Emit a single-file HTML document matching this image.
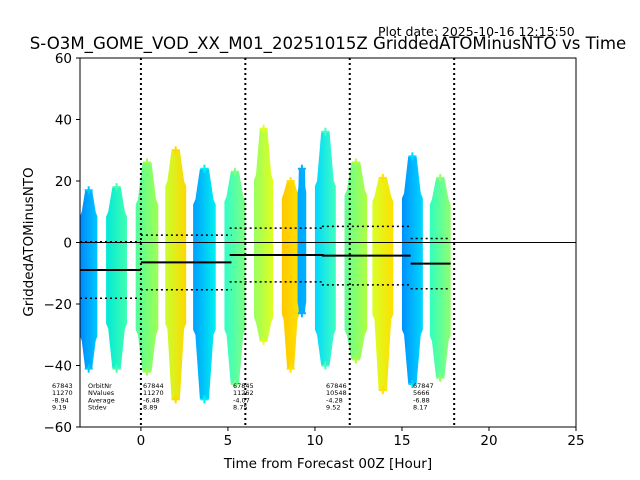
<!DOCTYPE html>
<html><head><meta charset="utf-8"><style>
body{margin:0;background:#fff;}
svg{display:block;font-family:"DejaVu Sans","Liberation Sans",sans-serif;}
</style></head><body>
<svg id="chart" width="640" height="480" xmlns="http://www.w3.org/2000/svg">
<text x="378" y="36" font-size="12.5">Plot date: 2025-10-16 12:15:50</text>
<text x="328" y="49" font-size="16.6" text-anchor="middle">S-O3M_GOME_VOD_XX_M01_20251015Z GriddedATOMinusNTO vs Time</text>
<defs id="defs"></defs>
<g id="plot"></g>
<rect x="80" y="58" width="496" height="369" fill="none" stroke="#000" stroke-width="1"/>
<text x="328" y="468" font-size="13.5" text-anchor="middle">Time from Forecast 00Z [Hour]</text>
<text transform="translate(33,242) rotate(-90)" font-size="13.5" text-anchor="middle">GriddedATOMinusNTO</text>
</svg>
<script>
const xTicks=[0,5,10,15,20,25];
const yTicks=[-60,-40,-20,0,20,40,60];
const vLines=[0,6,12,18];
const clStart=[-3.5,-2.0,-0.3,1.4,3.0,4.8,6.5,8.1,9.0,10.0,11.7,13.3,15.0,16.6];
const clEnd=[-2.5,-0.8,1.0,2.6,4.3,6.0,7.6,9.1,9.5,11.2,13.0,14.5,16.2,17.8];
const coreTop=[10,10,14,20,14,15,22,16,18,20,17,15,16,14];
const coreBot=[-32,-28,-30,-28,-30,-30,-26,-25,-21,-30,-30,-25,-30,-32];
const tailTop=[17,18,26,30,24,23,37,20,24,36,26,21,28,21];
const tailBot=[-41,-41,-42,-51,-51,-46,-32,-41,-23,-40,-38,-48,-46,-44];
const colL=['#0088ff','#00e8d8','#50ffa0','#c8ff30','#00a0ff','#30ffc8','#98ff60','#ffc800','#00a8ff','#00d8ff','#60ff98','#d8ff28','#0090ff','#30ffc0'];
const colR=['#00c8ff','#40ffb0','#a0ff50','#ffd800','#00f0f0','#80ff80','#e0ff20','#ffe000','#00b0ff','#40ffc0','#b0ff40','#ffe000','#00d8ff','#90ff70'];
const segStart=[-3.5,0,5.1,10.4,15.5];
const segEnd=[0,5.2,10.5,15.5,17.8];
const means=[-8.94,-6.48,-4.07,-4.28,-6.88];
const stdevs=[9.19,8.89,8.75,9.52,8.17];
const orbits=['67843','67844','67845','67846','67847'];
const nvals=['11270','11270','11262','10548','5666'];
const textX=[52,143,233,326,413];

const NS='http://www.w3.org/2000/svg';
const X=v=>80+(v+3.5)*496/28.5;
const Y=v=>242.5-v*369/120;
const svg=document.getElementById('chart');
const plot=document.getElementById('plot');
const defs=document.getElementById('defs');
function mk(tag,attrs,parent){const e=document.createElementNS(NS,tag);for(const k in attrs)e.setAttribute(k,attrs[k]);(parent||plot).appendChild(e);return e;}

clStart.forEach((s,i)=>{
  const g=mk('linearGradient',{id:'g'+i,x1:'0',x2:'1',y1:'0',y2:'0'},defs);
  mk('stop',{offset:'0','stop-color':colL[i]},g);
  mk('stop',{offset:'1','stop-color':colR[i]},g);
  const x0=X(s),x1=X(clEnd[i]),w=x1-x0,c=(x0+x1)/2;
  const yt=Y(tailTop[i]),yct=Y(coreTop[i]),ycb=Y(coreBot[i]),yb=Y(tailBot[i]);
  const hw=Math.max(3,w*0.2);
  const d=`M${c-hw},${yt}L${c+hw},${yt}L${x1-w*0.1},${yct}L${x1},${yct+5}L${x1},${ycb-5}L${x1-w*0.1},${ycb}L${c+hw},${yb}L${c-hw},${yb}L${x0+w*0.1},${ycb}L${x0},${ycb-5}L${x0},${yct+5}L${x0+w*0.1},${yct}Z`;
  const core=mk('path',{d:d,fill:'url(#g'+i+')'});
  
  
  [tailTop[i],tailBot[i]].forEach(v=>{
    const p=mk('path',{d:`M${c-4},${Y(v)}h8M${c},${Y(v)-4}v8`,stroke:colR[i],'stroke-width':2});
    
    
  });
});
const zl=mk('line',{x1:80,x2:576,y1:Y(0),y2:Y(0),stroke:'#000','stroke-width':1});


vLines.forEach(v=>{
  const l=mk('line',{x1:X(v),x2:X(v),y1:58,y2:427,stroke:'#000','stroke-width':2,'stroke-dasharray':'2,3'});
  
  
});
segStart.forEach((s,i)=>{
  const a=X(s),b=X(segEnd[i]);
  const m=mk('line',{x1:a,x2:b,y1:Y(means[i]),y2:Y(means[i]),stroke:'#000','stroke-width':2});
  
  
  [1,-1].forEach(sg=>{
    const dl=mk('line',{x1:a,x2:b,y1:Y(means[i]+sg*stdevs[i]),y2:Y(means[i]+sg*stdevs[i]),stroke:'#000','stroke-width':1.5,'stroke-dasharray':'2,3'});
    
    
  });
  [orbits[i],nvals[i],means[i].toFixed(2),stdevs[i].toFixed(2)].forEach((t,j)=>{
    const tx=mk('text',{x:textX[i],y:388+j*7.2,'font-size':6.5});
    tx.textContent=t;
    
    
  });
});
['OrbitNr','NValues','Average','Stdev'].forEach((t,j)=>{
  const tx=mk('text',{x:88,y:388+j*7.2,'font-size':6.5});
  tx.textContent=t;
  
  
});
xTicks.forEach(v=>{
  const t=mk('line',{x1:X(v),x2:X(v),y1:427,y2:431,stroke:'#000'},svg);
  
  
  const l=mk('text',{x:X(v),y:445,'font-size':13.5,'text-anchor':'middle'},svg);
  l.textContent=v;
  
  
});
yTicks.forEach(v=>{
  const t=mk('line',{x1:76,x2:80,y1:Y(v),y2:Y(v),stroke:'#000'},svg);
  
  
  const l=mk('text',{x:72,y:Y(v)+5,'font-size':13.5,'text-anchor':'end'},svg);
  l.textContent=v<0?'\u2212'+(-v):v;
  
  
});
</script>
</body></html>
